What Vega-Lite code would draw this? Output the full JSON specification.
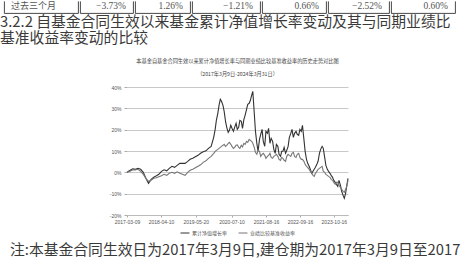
{
  "$schema": "https://vega.github.io/schema/vega-lite/v6.json",
  "padding": 0,
  "background": "white",
  "spacing": 0,
  "resolve": {"scale": {"color": "independent"}, "legend": {"color": "independent"}},
  "config": {
    "view": {"stroke": null},
    "font": "Noto Sans CJK SC",
    "title": {"font": "Noto Sans CJK SC", "fontWeight": "normal", "color": "#3a3a3a"},
    "legend": {"layout": {"bottom": {"anchor": "middle"}}}
  },
  "datasets": {
    "table": [
      {"c": 1, "t": "过去三个月"},
      {"c": 2, "t": "−3.73%"},
      {"c": 3, "t": "1.26%"},
      {"c": 4, "t": "−1.21%"},
      {"c": 5, "t": "0.66%"},
      {"c": 6, "t": "−2.52%"},
      {"c": 7, "t": "0.60%"}
    ]
  },
  "vconcat": [
    {
      "hconcat": [
        {"width": 3, "height": 12, "data": {"values": []}, "mark": "text", "encoding": {}},
        {"width": 74, "height": 12, "view": {"stroke": "#333", "strokeWidth": 0.9, "strokeDash": [0, 74, 98, 0]}, "data": {"name": "table"}, "transform": [{"filter": "datum.c == 1"}], "mark": {"type": "text", "align": "left", "x": 0, "dx": 7, "dy": -1, "fontSize": 9, "color": "#555"}, "encoding": {"text": {"field": "t"}}},
        {"width": 53, "height": 12, "view": {"stroke": "#333", "strokeWidth": 0.9, "strokeDash": [0, 53, 77, 0]}, "data": {"name": "table"}, "transform": [{"filter": "datum.c == 2"}], "mark": {"type": "text", "align": "right", "x": "width", "dx": -7, "dy": -1, "fontSize": 9.5, "font": "Liberation Serif", "color": "#555"}, "encoding": {"text": {"field": "t"}}},
        {"width": 55, "height": 12, "view": {"stroke": "#333", "strokeWidth": 0.9, "strokeDash": [0, 55, 79, 0]}, "data": {"name": "table"}, "transform": [{"filter": "datum.c == 3"}], "mark": {"type": "text", "align": "right", "x": "width", "dx": -7, "dy": -1, "fontSize": 9.5, "font": "Liberation Serif", "color": "#555"}, "encoding": {"text": {"field": "t"}}},
        {"width": 68, "height": 12, "view": {"stroke": "#333", "strokeWidth": 0.9, "strokeDash": [0, 68, 92, 0]}, "data": {"name": "table"}, "transform": [{"filter": "datum.c == 4"}], "mark": {"type": "text", "align": "right", "x": "width", "dx": -7, "dy": -1, "fontSize": 9.5, "font": "Liberation Serif", "color": "#555"}, "encoding": {"text": {"field": "t"}}},
        {"width": 64, "height": 12, "view": {"stroke": "#333", "strokeWidth": 0.9, "strokeDash": [0, 64, 88, 0]}, "data": {"name": "table"}, "transform": [{"filter": "datum.c == 5"}], "mark": {"type": "text", "align": "right", "x": "width", "dx": -7, "dy": -1, "fontSize": 9.5, "font": "Liberation Serif", "color": "#555"}, "encoding": {"text": {"field": "t"}}},
        {"width": 61, "height": 12, "view": {"stroke": "#333", "strokeWidth": 0.9, "strokeDash": [0, 61, 85, 0]}, "data": {"name": "table"}, "transform": [{"filter": "datum.c == 6"}], "mark": {"type": "text", "align": "right", "x": "width", "dx": -7, "dy": -1, "fontSize": 9.5, "font": "Liberation Serif", "color": "#555"}, "encoding": {"text": {"field": "t"}}},
        {"width": 64, "height": 12, "view": {"stroke": "#333", "strokeWidth": 0.9, "strokeDash": [0, 64, 88, 0]}, "data": {"name": "table"}, "transform": [{"filter": "datum.c == 7"}], "mark": {"type": "text", "align": "right", "x": "width", "dx": -7, "dy": -1, "fontSize": 9.5, "font": "Liberation Serif", "color": "#555"}, "encoding": {"text": {"field": "t"}}}
      ],
      "spacing": 0
    },
    {
      "width": 470,
      "height": 8,
      "data": {"values": []},
      "mark": "text",
      "encoding": {},
      "title": {
        "text": ["\u2002\u00a03.2.2 自基金合同生效以来基金累计净值增长率变动及其与同期业绩比", "基准收益率变动的比较"],
        "orient": "top",
        "anchor": "start",
        "frame": "group",
        "align": "left",
        "fontSize": 14.8,
        "lineHeight": 16.5,
        "offset": 2,
        "dy": -2
      }
    },
    {
      "hconcat": [
        {"width": 109, "height": 128, "data": {"values": []}, "mark": "text", "encoding": {}},
        {
          "width": 221,
          "height": 128,
          "data": {
            "format": {"parse": {"d": "date:'%Y-%m-%d'"}},
            "values": [
              {"d": "2017-03-09", "f": 0, "b": 0},
              {"d": "2017-04-15", "f": 0.94, "b": 0.47},
              {"d": "2017-05-15", "f": 1.64, "b": 1.17},
              {"d": "2017-06-15", "f": 1.41, "b": 1.17},
              {"d": "2017-07-15", "f": 1.88, "b": 1.41},
              {"d": "2017-08-15", "f": 1.41, "b": 0.47},
              {"d": "2017-09-15", "f": 0, "b": -0.94},
              {"d": "2017-10-15", "f": -2.81, "b": -2.81},
              {"d": "2017-11-15", "f": -5.16, "b": -4.22},
              {"d": "2017-12-15", "f": -3.28, "b": -3.75},
              {"d": "2018-01-15", "f": -2.34, "b": -2.81},
              {"d": "2018-02-15", "f": -1.64, "b": -2.58},
              {"d": "2018-03-15", "f": -0.94, "b": -2.11},
              {"d": "2018-04-15", "f": 0.47, "b": -1.64},
              {"d": "2018-05-15", "f": 1.17, "b": -0.94},
              {"d": "2018-06-15", "f": 0.7, "b": -1.41},
              {"d": "2018-07-15", "f": 1.88, "b": -0.47},
              {"d": "2018-08-15", "f": 2.81, "b": 0},
              {"d": "2018-09-15", "f": 2.34, "b": -0.47},
              {"d": "2018-10-15", "f": 3.28, "b": 0.23},
              {"d": "2018-11-15", "f": 4.22, "b": -0.47},
              {"d": "2018-12-15", "f": 4.22, "b": -0.94},
              {"d": "2019-01-15", "f": 4.22, "b": -1.41},
              {"d": "2019-02-15", "f": 5.16, "b": 0},
              {"d": "2019-03-15", "f": 6.09, "b": 0.94},
              {"d": "2019-04-15", "f": 6.56, "b": 1.41},
              {"d": "2019-05-15", "f": 7.27, "b": 2.11},
              {"d": "2019-06-15", "f": 7.97, "b": 2.81},
              {"d": "2019-07-15", "f": 8.91, "b": 3.52},
              {"d": "2019-08-15", "f": 9.61, "b": 4.69},
              {"d": "2019-09-15", "f": 10.08, "b": 5.39},
              {"d": "2019-10-15", "f": 11.25, "b": 6.56},
              {"d": "2019-11-15", "f": 12.19, "b": 7.5},
              {"d": "2019-12-15", "f": 16.41, "b": 8.91},
              {"d": "2020-01-01", "f": 20.16, "b": 9.85},
              {"d": "2020-01-15", "f": 24.38, "b": 10.31},
              {"d": "2020-02-01", "f": 27.66, "b": 10.78},
              {"d": "2020-02-15", "f": 31.41, "b": 11.25},
              {"d": "2020-03-01", "f": 34.22, "b": 11.72},
              {"d": "2020-03-15", "f": 33.29, "b": 12.19},
              {"d": "2020-04-01", "f": 31.41, "b": 12.66},
              {"d": "2020-04-15", "f": 28.6, "b": 13.13},
              {"d": "2020-05-01", "f": 23.91, "b": 12.19},
              {"d": "2020-05-15", "f": 21.1, "b": 12.66},
              {"d": "2020-06-01", "f": 18.75, "b": 13.6},
              {"d": "2020-06-15", "f": 19.69, "b": 14.06},
              {"d": "2020-07-01", "f": 22.03, "b": 13.13},
              {"d": "2020-07-15", "f": 20.63, "b": 12.19},
              {"d": "2020-08-01", "f": 19.22, "b": 11.25},
              {"d": "2020-08-15", "f": 21.1, "b": 11.72},
              {"d": "2020-09-01", "f": 22.97, "b": 12.66},
              {"d": "2020-09-15", "f": 20.16, "b": 12.89},
              {"d": "2020-10-01", "f": 21.1, "b": 11.72},
              {"d": "2020-10-15", "f": 24.38, "b": 11.25},
              {"d": "2020-11-01", "f": 23.91, "b": 12.66},
              {"d": "2020-11-15", "f": 20.63, "b": 11.95},
              {"d": "2020-12-01", "f": 24.85, "b": 13.6},
              {"d": "2020-12-15", "f": 26.72, "b": 13.13},
              {"d": "2021-01-01", "f": 29.54, "b": 14.53},
              {"d": "2021-01-15", "f": 31.88, "b": 14.06},
              {"d": "2021-02-01", "f": 32.35, "b": 15.47},
              {"d": "2021-02-15", "f": 33.76, "b": 15.0},
              {"d": "2021-03-01", "f": 36.1, "b": 14.53},
              {"d": "2021-03-15", "f": 37.97, "b": 13.6},
              {"d": "2021-04-01", "f": 27.66, "b": 11.72},
              {"d": "2021-04-15", "f": 19.22, "b": 9.38},
              {"d": "2021-05-01", "f": 13.6, "b": 8.44},
              {"d": "2021-05-15", "f": 9.85, "b": 10.31},
              {"d": "2021-06-01", "f": 15.47, "b": 9.85},
              {"d": "2021-06-15", "f": 17.82, "b": 7.5},
              {"d": "2021-07-01", "f": 20.16, "b": 8.44},
              {"d": "2021-07-15", "f": 14.53, "b": 8.91},
              {"d": "2021-08-01", "f": 12.19, "b": 7.97},
              {"d": "2021-08-15", "f": 19.22, "b": 6.56},
              {"d": "2021-09-01", "f": 18.28, "b": 7.5},
              {"d": "2021-09-15", "f": 20.63, "b": 7.97},
              {"d": "2021-10-01", "f": 13.6, "b": 8.91},
              {"d": "2021-10-15", "f": 15.94, "b": 7.03},
              {"d": "2021-11-01", "f": 14.53, "b": 6.56},
              {"d": "2021-11-15", "f": 10.78, "b": 7.5},
              {"d": "2021-12-01", "f": 8.91, "b": 7.97},
              {"d": "2021-12-15", "f": 13.13, "b": 8.44},
              {"d": "2022-01-01", "f": 12.19, "b": 7.5},
              {"d": "2022-01-15", "f": 8.44, "b": 6.09},
              {"d": "2022-02-01", "f": 7.5, "b": 5.63},
              {"d": "2022-02-15", "f": 9.85, "b": 7.03},
              {"d": "2022-03-01", "f": 9.85, "b": 6.56},
              {"d": "2022-03-15", "f": 11.72, "b": 5.63},
              {"d": "2022-04-01", "f": 8.91, "b": 5.16},
              {"d": "2022-04-15", "f": 10.31, "b": 7.5},
              {"d": "2022-05-01", "f": 12.19, "b": 8.44},
              {"d": "2022-05-15", "f": 16.41, "b": 7.97},
              {"d": "2022-06-01", "f": 18.28, "b": 7.5},
              {"d": "2022-06-15", "f": 20.16, "b": 8.91},
              {"d": "2022-07-01", "f": 16.41, "b": 9.38},
              {"d": "2022-07-15", "f": 18.28, "b": 7.5},
              {"d": "2022-08-01", "f": 19.22, "b": 7.03},
              {"d": "2022-08-15", "f": 17.82, "b": 8.44},
              {"d": "2022-09-01", "f": 17.35, "b": 8.91},
              {"d": "2022-09-15", "f": 20.16, "b": 7.03},
              {"d": "2022-10-01", "f": 19.22, "b": 6.09},
              {"d": "2022-10-15", "f": 22.03, "b": 6.09},
              {"d": "2022-11-01", "f": 15.47, "b": 5.16},
              {"d": "2022-11-15", "f": 9.85, "b": 3.75},
              {"d": "2022-12-01", "f": 6.09, "b": 2.81},
              {"d": "2022-12-15", "f": 4.22, "b": 2.34},
              {"d": "2023-01-01", "f": 2.81, "b": 1.41},
              {"d": "2023-01-15", "f": 1.41, "b": 0.47},
              {"d": "2023-02-01", "f": -0.47, "b": -0.47},
              {"d": "2023-02-15", "f": 0.47, "b": -1.41},
              {"d": "2023-03-01", "f": 1.41, "b": -1.88},
              {"d": "2023-03-15", "f": 2.34, "b": -0.47},
              {"d": "2023-04-01", "f": 3.75, "b": 0.47},
              {"d": "2023-04-15", "f": 5.16, "b": 1.41},
              {"d": "2023-05-01", "f": 8.91, "b": 1.88},
              {"d": "2023-05-15", "f": 10.78, "b": 2.34},
              {"d": "2023-06-01", "f": 12.19, "b": 2.81},
              {"d": "2023-06-15", "f": 11.25, "b": 0.47},
              {"d": "2023-07-01", "f": 7.03, "b": 0},
              {"d": "2023-07-15", "f": 3.28, "b": -0.94},
              {"d": "2023-08-01", "f": 1.41, "b": -1.41},
              {"d": "2023-08-15", "f": 0.47, "b": -1.88},
              {"d": "2023-09-01", "f": -0.47, "b": -2.34},
              {"d": "2023-09-15", "f": -1.41, "b": -3.28},
              {"d": "2023-10-01", "f": -2.34, "b": -3.75},
              {"d": "2023-10-15", "f": -3.75, "b": -4.69},
              {"d": "2023-11-01", "f": -4.69, "b": -5.63},
              {"d": "2023-11-15", "f": -5.63, "b": -4.69},
              {"d": "2023-12-01", "f": -6.56, "b": -4.69},
              {"d": "2023-12-15", "f": -3.75, "b": -6.09},
              {"d": "2024-01-01", "f": -6.09, "b": -7.03},
              {"d": "2024-01-15", "f": -8.91, "b": -7.97},
              {"d": "2024-02-01", "f": -10.78, "b": -8.91},
              {"d": "2024-02-15", "f": -12.19, "b": -9.38},
              {"d": "2024-03-01", "f": -9.85, "b": -7.97},
              {"d": "2024-03-15", "f": -6.09, "b": -6.56},
              {"d": "2024-03-29", "f": -2.81, "b": -3.75}
            ]
          },
          "transform": [{"fold": ["f", "b"], "as": ["k", "v"]}],
          "title": {
            "text": ["本基金自基金合同生效以来累计净值增长率与同期业绩比较基准收益率的历史走势对比图", "（2017年3月9日-2024年3月31日）"],
            "anchor": "middle",
            "frame": "group",
            "fontSize": 5.2,
            "lineHeight": 13,
            "offset": 8,
            "color": "#444"
          },
          "mark": {"type": "line", "strokeWidth": 1.1},
          "encoding": {
            "x": {
              "field": "d",
              "type": "temporal",
              "scale": {"nice": false},
              "axis": {
                "title": null,
                "values": [
                  {"year": 2017, "month": 3, "date": 9},
                  {"year": 2018, "month": 4, "date": 10},
                  {"year": 2019, "month": 5, "date": 20},
                  {"year": 2020, "month": 7, "date": 10},
                  {"year": 2021, "month": 8, "date": 16},
                  {"year": 2022, "month": 9, "date": 16},
                  {"year": 2023, "month": 10, "date": 16}
                ],
                "format": "%Y-%m-%d",
                "labelFontSize": 5,
                "labelColor": "#555",
                "labelFont": "Liberation Sans",
                "tickSize": 2,
                "tickColor": "#aaa",
                "domainColor": "#bbb",
                "grid": false,
                "labelPadding": 2,
                "labelOverlap": false,
                "labelFlush": false
              }
            },
            "y": {
              "field": "v",
              "type": "quantitative",
              "scale": {"domain": [-20, 40], "nice": false},
              "axis": {
                "title": null,
                "values": [-20, -10, 0, 10, 20, 30, 40],
                "labelExpr": "datum.value + '%'",
                "labelFontSize": 5,
                "labelColor": "#555",
                "labelFont": "Liberation Sans",
                "grid": true,
                "gridColor": "#c8c8c8",
                "domain": false,
                "tickSize": 3,
                "tickColor": "#aaa",
                "labelPadding": 3
              }
            },
            "color": {
              "field": "k",
              "type": "nominal",
              "scale": {"domain": ["f", "b"], "range": ["#333333", "#777777"]},
              "legend": {
                "title": null,
                "orient": "bottom",
                "direction": "horizontal",
                "labelExpr": "datum.value == 'f' ? '累计净值增长率' : '业绩比较基准收益率'",
                "labelFontSize": 5,
                "labelColor": "#555",
                "symbolType": "stroke",
                "symbolSize": 80,
                "symbolStrokeWidth": 1,
                "columnPadding": 8,
                "labelOffset": 2,
                "offset": 4
              }
            }
          }
        }
      ],
      "spacing": 0,
      "resolve": {"scale": {"color": "independent"}, "legend": {"color": "independent"}}
    },
    {
      "width": 470,
      "height": 0,
      "data": {"values": []},
      "mark": "text",
      "encoding": {},
      "title": {
        "text": "注:本基金合同生效日为2017年3月9日,建仓期为2017年3月9日至2017",
        "orient": "bottom",
        "anchor": "start",
        "frame": "group",
        "align": "left",
        "fontSize": 14.8,
        "dx": 10,
        "offset": -13
      }
    }
  ]
}
